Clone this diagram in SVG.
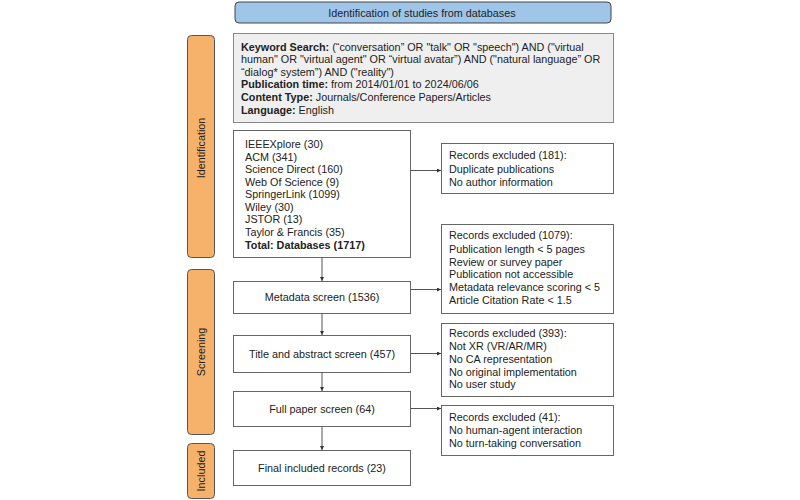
<svg xmlns="http://www.w3.org/2000/svg" width="800" height="500" viewBox="0 0 800 500">
<style>
  text { font-family: "Liberation Sans", Arial, sans-serif; font-size: 10.8px; fill: #222; }
  .b { font-weight: bold; }
  .c { text-anchor: middle; }
  .box { fill: #ffffff; stroke: #666666; stroke-width: 1; }
  .side { fill: #F6B26B; stroke: #555555; stroke-width: 1; }
  .conn { stroke: #555555; stroke-width: 1; fill: none; marker-end: url(#arr); }
</style>
<defs>
  <marker id="arr" viewBox="0 0 6 6" refX="6" refY="3" markerWidth="4" markerHeight="4" orient="auto" markerUnits="userSpaceOnUse">
    <path d="M0,0 L6,3 L0,6 z" fill="#333333"/>
  </marker>
</defs>
<rect width="800" height="500" fill="#ffffff"/>

<g id="title">
  <rect x="235" y="2" width="376" height="21" rx="4" fill="#9FC5E8" stroke="#444444"/>
  <text x="422" y="16.5" class="c">Identification of studies from databases</text>
</g>

<g id="side-identification">
  <rect class="side" x="187.5" y="35.5" width="27" height="222" rx="4"/>
  <text class="c" transform="translate(205,148) rotate(-90)">Identification</text>
</g>
<g id="side-screening">
  <rect class="side" x="187.5" y="269.5" width="27" height="165" rx="4"/>
  <text class="c" transform="translate(205,352) rotate(-90)">Screening</text>
</g>
<g id="side-included">
  <rect class="side" x="187.5" y="443.5" width="27" height="55" rx="4"/>
  <text class="c" transform="translate(205,471) rotate(-90)">Included</text>
</g>

<g id="search">
  <rect x="233.5" y="33.5" width="380" height="89" fill="#EFEFEF" stroke="#888888"/>
  <text x="241" y="50.5"><tspan class="b">Keyword Search:</tspan> (“conversation” OR "talk" OR "speech") AND ("virtual</text>
  <text x="241" y="63">human" OR "virtual agent" OR “virtual avatar”) AND ("natural language” OR</text>
  <text x="241" y="75.5">“dialog* system”) AND ("reality")</text>
  <text x="241" y="88"><tspan class="b">Publication time:</tspan> from 2014/01/01 to 2024/06/06</text>
  <text x="241" y="101"><tspan class="b">Content Type:</tspan> Journals/Conference Papers/Articles</text>
  <text x="241" y="114"><tspan class="b">Language:</tspan> English</text>
</g>

<g id="databases">
  <rect class="box" x="233.5" y="130.5" width="177" height="127"/>
  <text x="245" y="148">IEEEXplore (30)</text>
  <text x="245" y="160.5">ACM (341)</text>
  <text x="245" y="173">Science Direct (160)</text>
  <text x="245" y="185.5">Web Of Science (9)</text>
  <text x="245" y="198">SpringerLink (1099)</text>
  <text x="245" y="210.5">Wiley (30)</text>
  <text x="245" y="223">JSTOR (13)</text>
  <text x="245" y="236">Taylor &amp; Francis (35)</text>
  <text x="245" y="248.5" class="b">Total: Databases (1717)</text>
</g>

<g id="excl-181">
  <rect class="box" x="441.5" y="143.5" width="172" height="50"/>
  <text x="449" y="159">Records excluded (181):</text>
  <text x="449" y="172.5">Duplicate publications</text>
  <text x="449" y="185.5">No author information</text>
</g>

<g id="excl-1079">
  <rect class="box" x="441.5" y="224.5" width="172" height="89"/>
  <text x="449" y="239">Records excluded (1079):</text>
  <text x="449" y="252.5">Publication length &lt; 5 pages</text>
  <text x="449" y="265.5">Review or survey paper</text>
  <text x="449" y="278">Publication not accessible</text>
  <text x="449" y="291">Metadata relevance scoring &lt; 5</text>
  <text x="449" y="304">Article Citation Rate &lt; 1.5</text>
</g>

<g id="metadata">
  <rect class="box" x="233.5" y="281.5" width="177" height="32"/>
  <text x="322" y="301" class="c">Metadata screen (1536)</text>
</g>

<g id="excl-393">
  <rect class="box" x="441.5" y="323.5" width="172" height="73"/>
  <text x="449" y="337">Records excluded (393):</text>
  <text x="449" y="350">Not XR (VR/AR/MR)</text>
  <text x="449" y="363">No CA representation</text>
  <text x="449" y="375.5">No original implementation</text>
  <text x="449" y="388">No user study</text>
</g>

<g id="title-abstract">
  <rect class="box" x="233.5" y="335.5" width="177" height="37"/>
  <text x="322" y="358" class="c">Title and abstract screen (457)</text>
</g>

<g id="full-paper">
  <rect class="box" x="233.5" y="391.5" width="177" height="35"/>
  <text x="322" y="413" class="c">Full paper screen (64)</text>
</g>

<g id="excl-41">
  <rect class="box" x="441.5" y="405.5" width="172" height="50"/>
  <text x="449" y="421">Records excluded (41):</text>
  <text x="449" y="434">No human-agent interaction</text>
  <text x="449" y="447">No turn-taking conversation</text>
</g>

<g id="final">
  <rect class="box" x="233.5" y="450.5" width="177" height="35"/>
  <text x="322" y="472" class="c">Final included records (23)</text>
</g>

<g id="connectors">
  <path class="conn" d="M322,257.5 V281"/>
  <path class="conn" d="M322,313.5 V335"/>
  <path class="conn" d="M322,372.5 V391"/>
  <path class="conn" d="M322,426.5 V450"/>
  <path class="conn" d="M410.5,170.5 H441"/>
  <path class="conn" d="M410.5,289.5 H441"/>
  <path class="conn" d="M410.5,353.5 H441"/>
  <path class="conn" d="M410.5,408.5 H441"/>
</g>
</svg>
